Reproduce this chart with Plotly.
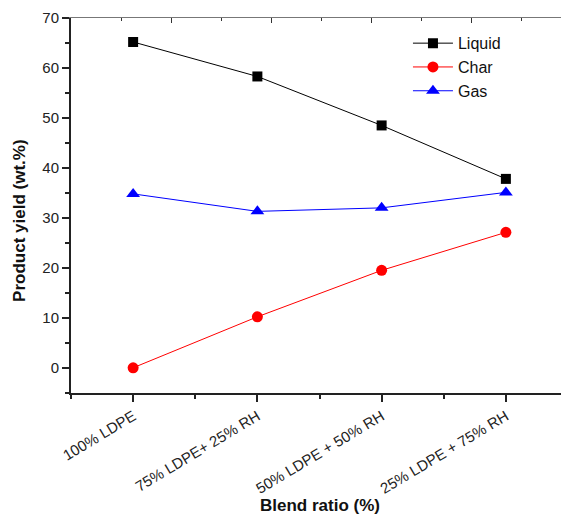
import plotly.graph_objects as go

categories = ["100% LDPE", "75% LDPE+ 25% RH", "50% LDPE + 50% RH", "25% LDPE + 75% RH"]
liquid = [65.2, 58.3, 48.5, 37.8]
char = [0.0, 10.2, 19.5, 27.1]
gas = [34.8, 31.3, 32.0, 35.1]

xpos = list(range(len(categories)))
FONT = "Liberation Sans, Arial, sans-serif"

fig = go.Figure()
fig.add_trace(go.Scatter(x=xpos, y=liquid, name="Liquid", mode="lines+markers",
                         line=dict(color="black", width=1),
                         marker=dict(symbol="square", size=10, color="black")))
fig.add_trace(go.Scatter(x=xpos, y=char, name="Char", mode="lines+markers",
                         line=dict(color="red", width=1),
                         marker=dict(symbol="circle", size=11, color="red")))
fig.add_trace(go.Scatter(x=xpos, y=gas, name="Gas", mode="lines+markers",
                         line=dict(color="blue", width=1),
                         marker=dict(symbol="triangle-up", size=12, color="blue")))

fig.update_layout(
    width=561, height=507,
    margin=dict(l=63, r=1, t=10, b=122),
    paper_bgcolor="white", plot_bgcolor="white",
    font=dict(family=FONT, color="#222", size=14),
    showlegend=True,
    legend=dict(x=0.678, y=0.978, xanchor="left", yanchor="top",
                bgcolor="rgba(0,0,0,0)", font=dict(size=16, color="#111"),
                tracegroupgap=0, itemwidth=40),
    xaxis=dict(range=[-0.5, 3.5], tickmode="array", tickvals=xpos, ticktext=categories,
               tickangle=-31, ticks="outside", ticklen=7, tickwidth=1.5, tickcolor="#222",
               minor=dict(tickvals=[-0.5, 0.5, 1.5, 2.5, 3.5], ticks="outside", ticklen=4,
                          tickwidth=1.5, tickcolor="#222"),
               showline=True, linecolor="#222", linewidth=2, showgrid=False, zeroline=False,
               tickfont=dict(size=15), anchor="y"),
    yaxis=dict(range=[-5.05, 70], tickmode="linear", tick0=0, dtick=10,
               ticks="outside", ticklen=7, tickwidth=1.5, tickcolor="#222",
               minor=dict(tick0=5, dtick=10, ticks="outside", ticklen=4, tickwidth=1.5,
                          tickcolor="#222"),
               showline=True, linecolor="#222", linewidth=2, showgrid=False, zeroline=False,
               tickfont=dict(size=15), anchor="x"),
    xaxis2=dict(overlaying="x", side="top", anchor="y", range=[0, 497], tickmode="array",
                tickvals=[0, 100, 200, 300, 400], ticks="inside", ticklen=5, tickwidth=1.2,
                tickcolor="#333", showticklabels=False,
                minor=dict(tickvals=[50, 150, 250, 350, 450], ticks="inside", ticklen=3,
                           tickwidth=1.2, tickcolor="#333"),
                showline=True, linecolor="#777", linewidth=1, showgrid=False, zeroline=False),
    yaxis2=dict(overlaying="y", side="right", anchor="x", range=[0, 375], tickmode="array",
                tickvals=[75, 150, 225, 300], ticks="inside", ticklen=5, tickwidth=1.2,
                tickcolor="#333", showticklabels=False,
                minor=dict(tickvals=[37.5, 112.5, 187.5, 262.5, 337.5], ticks="inside",
                           ticklen=3, tickwidth=1.2, tickcolor="#333"),
                showline=True, linecolor="#777", linewidth=1, showgrid=False, zeroline=False),
    annotations=[
        dict(text="<b>Blend ratio (%)</b>", xref="paper", yref="paper", x=0.5, y=-0.3,
             xanchor="center", yanchor="middle", showarrow=False,
             font=dict(size=17, color="#111", family=FONT)),
        dict(text="<b>Product yield (wt.%)</b>", xref="paper", yref="paper",
             x=-0.1026, y=0.459, xanchor="center", yanchor="middle", textangle=-90,
             showarrow=False, font=dict(size=17, color="#111", family=FONT)),
    ],
)
fig.add_trace(go.Scatter(x=[None], y=[None], xaxis="x2", yaxis="y2", showlegend=False,
                         hoverinfo="skip"))

fig.write_html("out.html")
